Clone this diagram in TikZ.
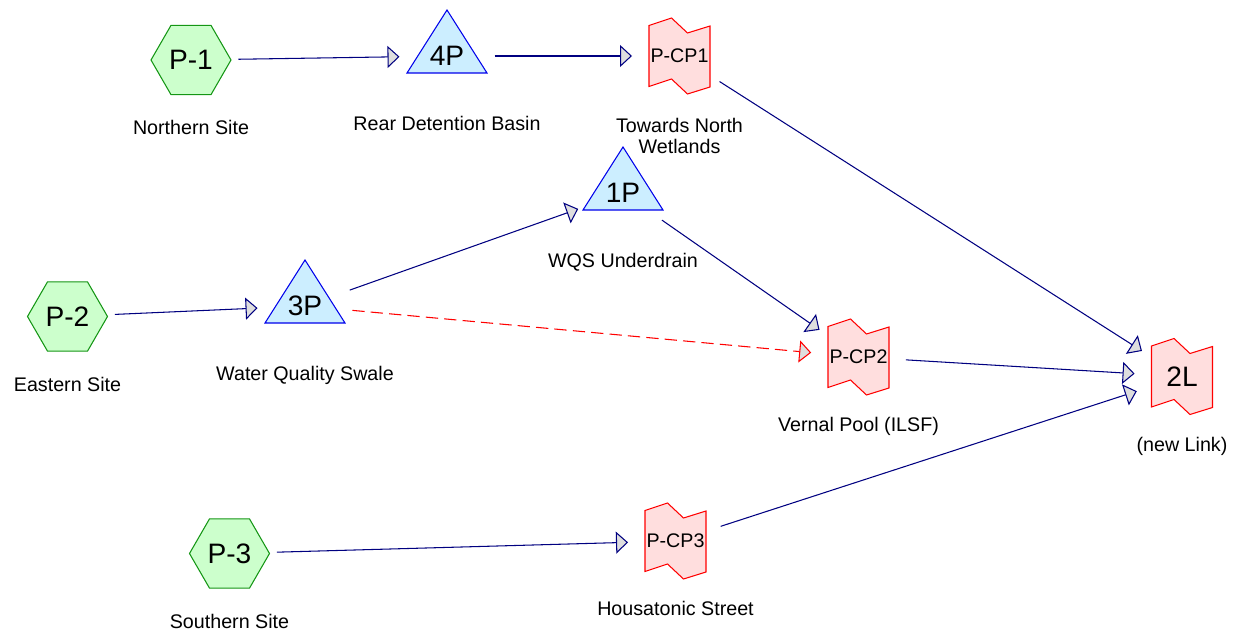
\documentclass[tikz,border=0pt]{standalone}
\usepackage{fontspec}
\setmainfont{Liberation Sans}
\usetikzlibrary{arrows.meta, positioning}

\definecolor{subfill}{RGB}{204,255,204}
\definecolor{subline}{RGB}{20,150,20}
\definecolor{pondfill}{RGB}{204,238,255}
\definecolor{pondline}{RGB}{0,0,235}
\definecolor{linkfill}{RGB}{255,222,222}
\definecolor{linkline}{RGB}{255,0,0}
\definecolor{routeline}{RGB}{0,0,128}
\definecolor{tipfill}{RGB}{222,222,222}

\tikzset{
  hydro/.style={circle, minimum size=1.9cm, inner sep=0pt, outer sep=0pt},
  bigtext/.style={font=\fontsize{16}{19}\selectfont},
  smalltext/.style={font=\fontsize{11.2}{12}\selectfont},
  % subcatchment: hexagon round the node centre
  subcat/.style={hydro, bigtext, path picture={
      \filldraw[draw=subline, fill=subfill, line width=0.6pt]
        (path picture bounding box.center) +(0:0.8)
        \foreach \a in {60,120,...,300} {-- +(\a:0.8)} -- cycle;}},
  % pond: triangle, text sits low
  pond/.style={hydro, bigtext, path picture={
      \filldraw[draw=pondline, fill=pondfill, line width=0.6pt]
        (path picture bounding box.center) +(0,0.92) -- +(0.8,-0.34) -- +(-0.8,-0.34) -- cycle;}},
  % link: box with zigzag top and bottom
  link/.style={hydro, smalltext, path picture={
      \filldraw[draw=linkline, fill=linkfill, line width=0.6pt]
        (path picture bounding box.center) +(-0.61,0.61) -- +(-0.16,0.76) -- +(0.16,0.46)
        -- +(0.61,0.6) -- +(0.61,-0.62) -- +(0.16,-0.76) -- +(-0.16,-0.46)
        -- +(-0.61,-0.61) -- cycle;}},
  lbl/.style={smalltext, align=center, inner sep=0pt},
  route/.style={draw=routeline, line width=0.6pt,
    -{Triangle[length=0.24cm, width=0.44cm, fill=tipfill]}},
}

\begin{document}
\begin{tikzpicture}
  \useasboundingbox (0,0) rectangle (24.76,12.66);

  % Subcatchments
  \node[subcat] (sub1) at (3.82,11.46) {P-1};
  \node[subcat] (sub2) at (1.35,6.33) {P-2};
  \node[subcat] (sub3) at (4.59,1.59) {P-3};

  % Ponds
  \node[pond] (pond4) at (8.94,11.54) {4P};
  \node[pond] (pond1) at (12.46,8.80) {1P};
  \node[pond] (pond3) at (6.10,6.54) {3P};

  % Links
  \node[link] (cp1) at (13.59,11.54) {P-CP1};
  \node[link] (cp2) at (17.17,5.52) {P-CP2};
  \node[link] (cp3) at (13.51,1.84) {P-CP3};
  \node[link, bigtext] (link2) at (23.64,5.13) {2L};

  % Descriptions under each node
  \node[lbl, below=1.2cm of sub1.center] (sub1lbl) {Northern Site};
  \node[lbl, below=1.2cm of sub2.center] (sub2lbl) {Eastern Site};
  \node[lbl, below=1.2cm of sub3.center] (sub3lbl) {Southern Site};
  \node[lbl, below=1.2cm of pond4.center] (pond4lbl) {Rear Detention Basin};
  \node[lbl, below=1.2cm of pond1.center] (pond1lbl) {WQS Underdrain};
  \node[lbl, below=1.2cm of pond3.center] (pond3lbl) {Water Quality Swale};
  \node[lbl, below=1.24cm of cp1.center] (cp1lbl) {Towards North\\Wetlands};
  \node[lbl, below=1.2cm of cp2.center] (cp2lbl) {Vernal Pool (ILSF)};
  \node[lbl, below=1.2cm of cp3.center] (cp3lbl) {Housatonic Street};
  \node[lbl, below=1.2cm of link2.center] (link2lbl) {(new Link)};

  % Routing
  \draw[route] (sub1) -- (pond4);
  \draw[route] (pond4) -- (cp1);
  \draw[route] (cp1) -- (link2);
  \draw[route] (sub2) -- (pond3);
  \draw[route] (pond3) -- (pond1);
  \draw[route] (pond1) -- (cp2);
  \draw[route, draw=linkline, dash pattern=on 7pt off 3.5pt] (pond3) -- (cp2);
  \draw[route] (cp2) -- (link2);
  \draw[route] (sub3) -- (cp3);
  \draw[route] (cp3) -- (link2);
\end{tikzpicture}
\end{document}
